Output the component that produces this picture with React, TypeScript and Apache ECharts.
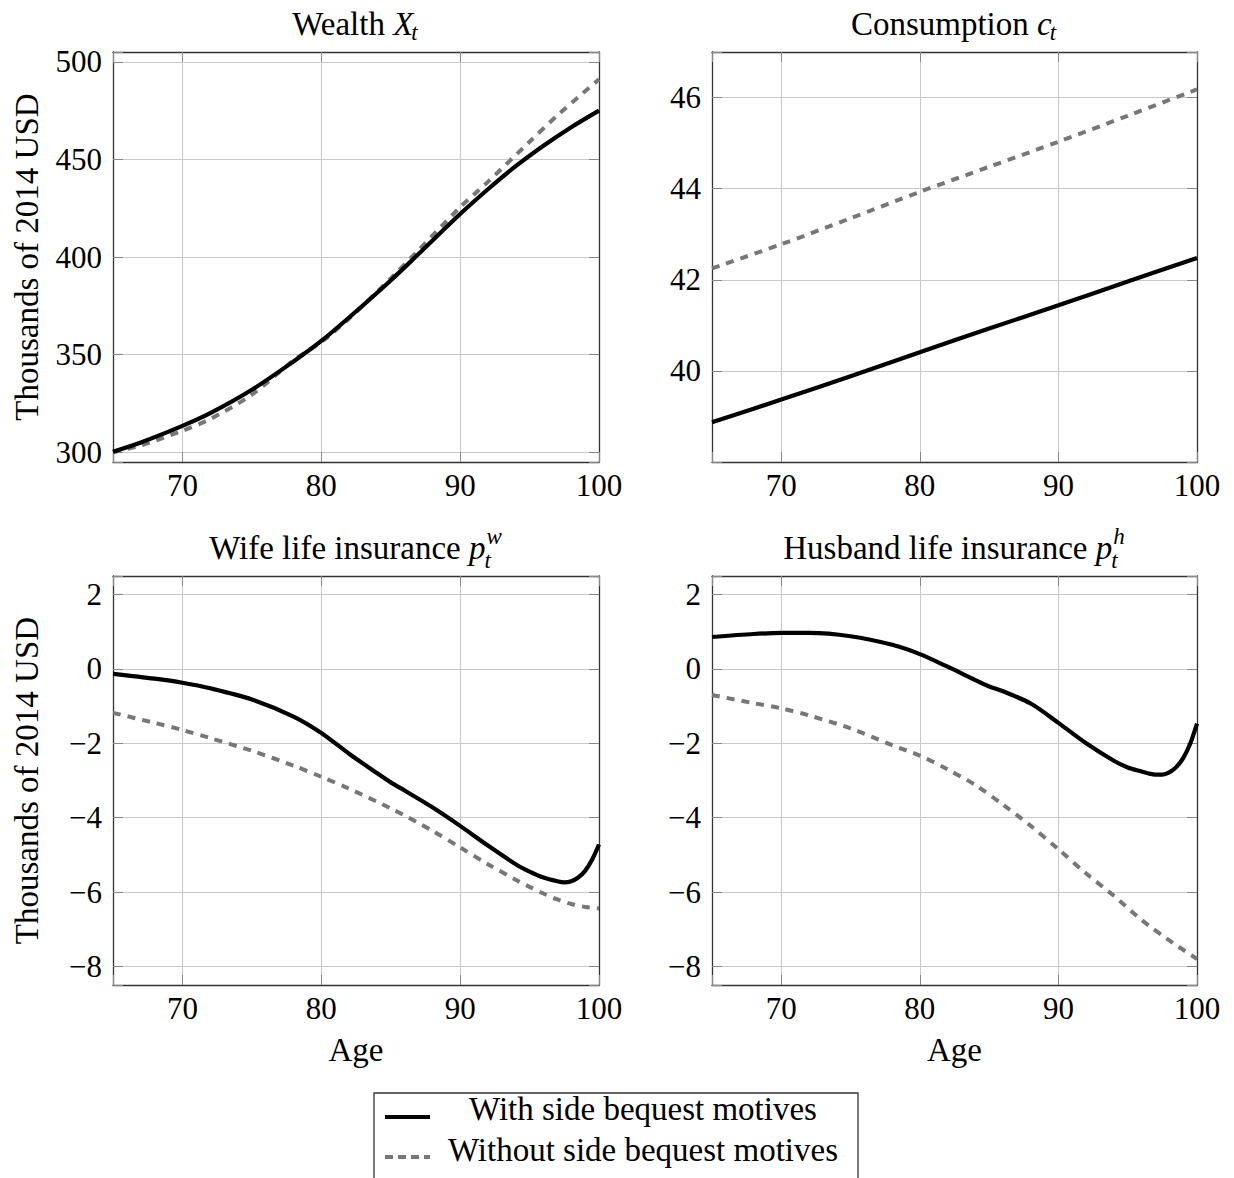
import React, { useEffect, useRef } from "react";
import * as echarts from "echarts";

// ---------- data ----------
const xTicks = [70, 80, 90, 100];
const wealthTicks = [300, 350, 400, 450, 500];
const consTicks = [40, 42, 44, 46];
const insTicks = [-8, -6, -4, -2, 0, 2];

const wealthWithAges = [65, 67, 70, 72, 75, 78, 80, 82, 85, 87, 90, 92, 94, 96, 98, 100];
const wealthWith = [300.3, 305, 313.5, 320, 332, 346.5, 357, 369, 388, 401.5, 422, 434.7, 446.5, 457, 466.5, 475];
const wealthWithoutAges = [65, 67, 70, 72, 75, 78, 80, 82, 85, 87, 90, 92, 95, 97, 100];
const wealthWithout = [300, 303.5, 311, 317, 329.5, 347, 356.5, 368.5, 389, 403.5, 425.5, 438.5, 459, 472.5, 491];

const consAges = [65, 70, 75, 80, 85, 90, 95, 100];
const consWith = [38.87, 39.37, 39.88, 40.41, 40.93, 41.44, 41.96, 42.48];
const consWithout = [42.25, 42.78, 43.35, 43.93, 44.48, 45.03, 45.6, 46.18];

const wifeWithAges = [65, 68, 70, 72, 75, 78, 80, 82, 84, 85, 86, 88, 90, 92, 94, 95, 96, 97, 97.5, 98, 98.5, 99, 99.5, 100];
const wifeWith = [-0.13, -0.26, -0.37, -0.52, -0.82, -1.28, -1.72, -2.28, -2.8, -3.05, -3.27, -3.72, -4.22, -4.75, -5.25, -5.45, -5.61, -5.71, -5.74, -5.71, -5.61, -5.43, -5.13, -4.72];
const wifeWithoutAges = [65, 68, 70, 72, 75, 78, 80, 82, 85, 88, 90, 92, 94, 95, 96, 97, 98, 99, 100];
const wifeWithout = [-1.18, -1.45, -1.64, -1.86, -2.2, -2.6, -2.9, -3.22, -3.75, -4.35, -4.8, -5.25, -5.67, -5.86, -6.04, -6.2, -6.32, -6.4, -6.44];

const husbandWithAges = [65, 68, 70, 72, 75, 78, 80, 82, 84, 85, 86, 88, 90, 92, 94, 95, 96, 96.5, 97, 97.5, 98, 98.5, 99, 99.5, 100];
const husbandWith = [0.86, 0.94, 0.97, 0.97, 0.88, 0.65, 0.4, 0.06, -0.3, -0.47, -0.6, -0.93, -1.45, -2.0, -2.47, -2.65, -2.76, -2.81, -2.84, -2.84, -2.78, -2.64, -2.4, -2.02, -1.47];
const husbandWithoutAges = [65, 68, 70, 72, 75, 78, 80, 82, 84, 86, 88, 90, 92, 94, 96, 98, 100];
const husbandWithout = [-0.7, -0.92, -1.06, -1.25, -1.6, -2.05, -2.33, -2.7, -3.12, -3.65, -4.22, -4.85, -5.5, -6.1, -6.75, -7.3, -7.8];

const seriesNames = ["With side bequest motives", "Without side bequest motives"];
const yAxisLabel = "Thousands of 2014 USD";
const xAxisLabel = "Age";

// ---------- style ----------
const FONT = "Liberation Serif";
const TICK_FS = 31;
const TEXT_FS = 33;
const SUB_FS = 23;
const SOLID = "#000000";
const DASH = "#777777";
const GRID_C = "#c8c8c8";
const AXIS_C = "#333333";

const pairs = (xs: number[], ys: number[]) => xs.map((x, i) => [x, ys[i]]);
const fmtTick = (v: number) => (v < 0 ? "\u2212" + Math.abs(v) : String(v));
const labelFmt = (ticks: number[]) => (v: number) =>
  ticks.some((t) => Math.abs(t - v) < 1e-9) ? fmtTick(v) : "";

export default function App() {
  const ref = useRef<HTMLDivElement>(null);

  useEffect(() => {
    if (!ref.current) return;
    const chart = echarts.init(ref.current, undefined, { renderer: "svg" });

    const ctx = document.createElement("canvas").getContext("2d")!;
    const measure = (t: string, italic: boolean, size: number) => {
      ctx.font = `${italic ? "italic " : ""}${size}px 'Liberation Serif'`;
      return ctx.measureText(t).width;
    };

    const panels = [
      { grid: { left: 113, top: 52, width: 486, height: 410 }, yMin: 295, yMax: 505, split: 4, ticks: wealthTicks,
        s: [pairs(wealthWithAges, wealthWith), pairs(wealthWithoutAges, wealthWithout)],
        title: { main: "Wealth ", base: "X", sub: "t", sup: "" }, yName: true, xName: false },
      { grid: { left: 712, top: 52, width: 485, height: 410 }, yMin: 38, yMax: 47, split: 4, ticks: consTicks,
        s: [pairs(consAges, consWith), pairs(consAges, consWithout)],
        title: { main: "Consumption ", base: "c", sub: "t", sup: "" }, yName: false, xName: false },
      { grid: { left: 113, top: 576, width: 486, height: 409 }, yMin: -8.5, yMax: 2.5, split: 5, ticks: insTicks,
        s: [pairs(wifeWithAges, wifeWith), pairs(wifeWithoutAges, wifeWithout)],
        title: { main: "Wife life insurance ", base: "p", sub: "t", sup: "w" }, yName: true, xName: true },
      { grid: { left: 712, top: 576, width: 485, height: 409 }, yMin: -8.5, yMax: 2.5, split: 5, ticks: insTicks,
        s: [pairs(husbandWithAges, husbandWith), pairs(husbandWithoutAges, husbandWithout)],
        title: { main: "Husband life insurance ", base: "p", sub: "t", sup: "h" }, yName: false, xName: true },
    ];

    const tickStyle = { show: true, inside: true, length: 10, lineStyle: { color: "#888", width: 1 } };
    const axisLine = { show: true, onZero: false, lineStyle: { color: AXIS_C, width: 1.3 } };
    const labelBase = { color: "#000", fontSize: TICK_FS, fontFamily: FONT };

    const xAxes: any[] = [];
    const yAxes: any[] = [];
    panels.forEach((p, i) => {
      xAxes[i] = {
        type: "value", gridIndex: i, min: 65, max: 100, splitNumber: 3, position: "bottom",
        axisLine, axisTick: tickStyle,
        axisLabel: { ...labelBase, margin: 8, formatter: labelFmt(xTicks) },
        splitLine: { show: true, lineStyle: { color: GRID_C, width: 1 } },
        name: p.xName ? xAxisLabel : "", nameLocation: "middle", nameGap: 48,
        nameTextStyle: { color: "#000", fontSize: TEXT_FS, fontFamily: FONT },
      };
      xAxes[4 + i] = {
        type: "value", gridIndex: i, min: 65, max: 100, splitNumber: 3, position: "top",
        axisLine, axisTick: tickStyle, axisLabel: { show: false }, splitLine: { show: false },
      };
      yAxes[i] = {
        type: "value", gridIndex: i, min: p.yMin, max: p.yMax, splitNumber: p.split, position: "left",
        axisLine, axisTick: tickStyle,
        axisLabel: { ...labelBase, margin: 11, formatter: labelFmt(p.ticks) },
        splitLine: { show: true, lineStyle: { color: GRID_C, width: 1 } },
        name: p.yName ? yAxisLabel : "", nameLocation: "middle", nameGap: 70,
        nameTextStyle: { color: "#000", fontSize: TEXT_FS, fontFamily: FONT },
      };
      yAxes[4 + i] = {
        type: "value", gridIndex: i, min: p.yMin, max: p.yMax, splitNumber: p.split, position: "right",
        axisLine, axisTick: tickStyle, axisLabel: { show: false }, splitLine: { show: false },
      };
    });

    const series: any[] = [];
    panels.forEach((p, i) => {
      series.push({
        type: "line", name: seriesNames[0], xAxisIndex: i, yAxisIndex: i, data: p.s[0],
        showSymbol: false, symbol: "none", smooth: 0.3, z: 3,
        lineStyle: { color: SOLID, width: 4.2, cap: "butt" },
      });
      series.push({
        type: "line", name: seriesNames[1], xAxisIndex: i, yAxisIndex: i, data: p.s[1],
        showSymbol: false, symbol: "none", smooth: 0.3, z: 2,
        lineStyle: { color: DASH, width: 4, type: [8, 7], cap: "butt" },
      });
    });

    const txt = (text: string, x: number, y: number, size: number, italic: boolean, align = "left") => ({
      type: "text", x, y, silent: true,
      style: {
        text, fill: "#000", fontSize: size, fontFamily: FONT, fontStyle: italic ? "italic" : "normal",
        align, verticalAlign: "middle", textAlign: align, textVerticalAlign: "middle",
      },
    });

    const graphics: any[] = [];
    panels.forEach((p) => {
      const t = p.title;
      const cx = p.grid.left + p.grid.width / 2;
      const my = p.grid.top - 28;
      const wMain = measure(t.main, false, TEXT_FS);
      const wBase = measure(t.base, true, TEXT_FS);
      const wSub = measure(t.sub, true, SUB_FS);
      const wSup = t.sup ? measure(t.sup, true, SUB_FS) : 0;
      const total = wMain + wBase + Math.max(wSub, wSup + 2);
      const x0 = cx - total / 2;
      graphics.push(txt(t.main, x0, my, TEXT_FS, false));
      graphics.push(txt(t.base, x0 + wMain, my, TEXT_FS, true));
      if (t.sup) {
        graphics.push(txt(t.sup, x0 + wMain + wBase + 1, my - 12, SUB_FS, true));
        graphics.push(txt(t.sub, x0 + wMain + wBase - 1, my + 12, SUB_FS, true));
      } else {
        graphics.push(txt(t.sub, x0 + wMain + wBase - 2, my + 8, SUB_FS, true));
      }
    });

    // legend
    graphics.push({
      type: "rect", silent: true,
      shape: { x: 374, y: 1093, width: 484, height: 120 },
      style: { fill: "#fff", stroke: AXIS_C, lineWidth: 1.3 },
    });
    graphics.push({
      type: "line", silent: true, shape: { x1: 385, y1: 1117, x2: 430, y2: 1117 },
      style: { stroke: SOLID, lineWidth: 4.2 },
    });
    graphics.push({
      type: "line", silent: true, shape: { x1: 385, y1: 1157, x2: 430, y2: 1157 },
      style: { stroke: DASH, lineWidth: 4, lineDash: [8, 5] },
    });
    graphics.push(txt(seriesNames[0], 643, 1109, TEXT_FS, false, "center"));
    graphics.push(txt(seriesNames[1], 643, 1150, TEXT_FS, false, "center"));

    chart.setOption({
      animation: false,
      backgroundColor: "#fff",
      grid: panels.map((p) => ({ ...p.grid, containLabel: false, outerBoundsMode: "none" })),
      xAxis: xAxes,
      yAxis: yAxes,
      series,
      graphic: graphics,
    });

    return () => chart.dispose();
  }, []);

  return (
    <div
      ref={ref}
      style={{ position: "absolute", left: 0, top: 0, width: 1234, height: 1178, background: "#fff" }}
    />
  );
}
